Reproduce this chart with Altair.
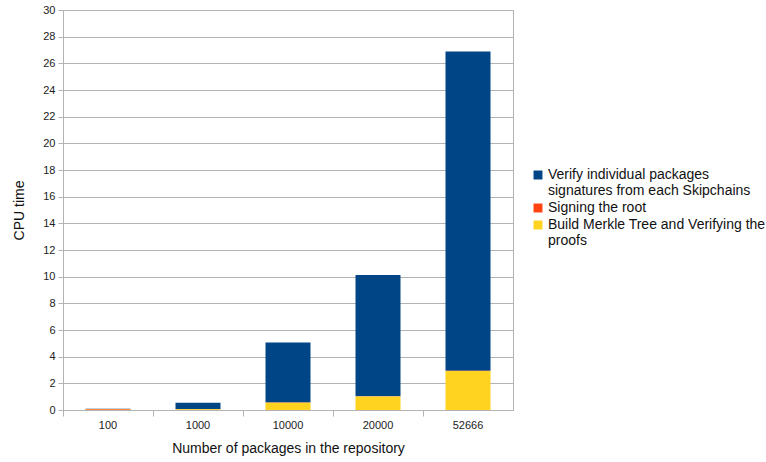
import altair as alt
import pandas as pd

# Repository sizes and per-stage CPU time
packages = ["100", "1000", "10000", "20000", "52666"]
merkle = [0.02, 0.06, 0.55, 1.02, 2.93]
signing = [0.05, 0.01, 0.01, 0.01, 0.01]
verify = [0.03, 0.48, 4.50, 9.10, 23.95]

series = [
    "Verify individual packages signatures from each Skipchains",
    "Signing the root",
    "Build Merkle Tree and Verifying the proofs",
]
colors = ["#004586", "#ff420e", "#ffd320"]
stack_order = [2, 1, 0]

rows = []
for i, p in enumerate(packages):
    for s, vals, o in zip(series, [verify, signing, merkle], stack_order):
        rows.append({"packages": p, "stage": s, "cpu": vals[i], "ord": o})
df = pd.DataFrame(rows)

label_expr = (
    "datum.label == 'Verify individual packages signatures from each Skipchains' "
    "? ['Verify individual packages', 'signatures from each Skipchains'] "
    ": datum.label == 'Build Merkle Tree and Verifying the proofs' "
    "? ['Build Merkle Tree and Verifying the', 'proofs'] : datum.label"
)

chart = (
    alt.Chart(df)
    .mark_bar(width=alt.RelativeBandSize(0.5))
    .encode(
        x=alt.X(
            "packages:N",
            sort=packages,
            scale=alt.Scale(paddingInner=0, paddingOuter=0),
            axis=alt.Axis(
                title="Number of packages in the repository",
                labelAngle=0,
                bandPosition=0,
                grid=False,
                ticks=True,
                tickSize=6,
                tickColor="#b3b3b3",
                domainColor="#b3b3b3",
                labelPadding=3,
                titlePadding=11,
            ),
        ),
        y=alt.Y(
            "cpu:Q",
            stack="zero",
            scale=alt.Scale(domain=[0, 30], nice=False),
            axis=alt.Axis(
                title="CPU time",
                values=list(range(0, 31, 2)),
                tickSize=5,
                tickColor="#b3b3b3",
                domainColor="#b3b3b3",
                gridColor="#b3b3b3",
                labelPadding=3,
                titlePadding=16,
            ),
        ),
        color=alt.Color(
            "stage:N",
            sort=series,
            scale=alt.Scale(domain=series, range=colors),
            legend=alt.Legend(
                title=None,
                orient="none",
                legendX=468,
                legendY=158,
                symbolType="square",
                symbolSize=80,
                symbolStrokeWidth=0,
                labelExpr=label_expr,
                labelLimit=400,
                labelFontSize=14,
                labelOffset=3,
                rowPadding=3,
            ),
        ),
        order=alt.Order("ord:Q", sort="ascending"),
    )
    .properties(
        width=450,
        height=400,
        autosize=alt.AutoSizeParams(type="none"),
        padding={"left": 63, "top": 10, "right": 253, "bottom": 52},
    )
    .configure(font="Liberation Sans")
    .configure_view(stroke="#b3b3b3")
    .configure_axis(
        labelFont="Liberation Sans",
        labelFontSize=11,
        labelColor="#222222",
        titleFont="Liberation Sans",
        titleFontSize=14,
        titleFontWeight="normal",
        titleColor="#111111",
    )
    .configure_legend(labelFont="Liberation Sans", labelColor="#111111")
)

chart.save("out.html", embed_options={"renderer": "svg", "actions": False})
